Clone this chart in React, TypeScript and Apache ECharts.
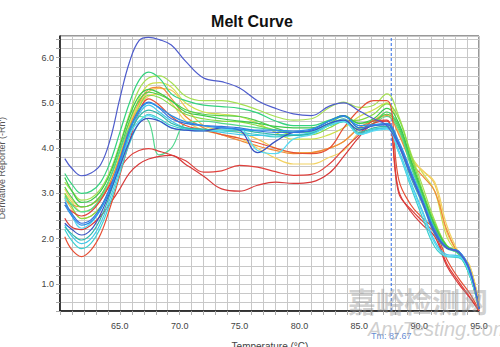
import React, { useEffect, useRef } from 'react';
import * as echarts from 'echarts';

// Temperature sample points (°C)
const temps = [60.4, 61.0, 61.8, 62.6, 63.4, 64.2, 65.0, 65.8, 66.6, 67.4, 68.3, 69.3, 70.5, 72.0, 73.5, 75.0, 76.5, 78.0, 79.5, 81.0, 82.5, 83.7, 85.0, 86.2, 87.3, 88.3, 89.3, 90.3, 91.3, 92.3, 93.3, 94.2, 95.0];

// Derivative Reporter (-Rn') per well
const yellowGreen = [3.0, 2.8, 2.6, 2.65, 2.85, 3.25, 3.85, 4.5, 5.1, 5.4, 5.45, 5.35, 5.0, 4.8, 4.75, 4.7, 4.55, 4.35, 4.2, 4.2, 4.3, 4.45, 4.7, 4.85, 5.0, 4.5, 3.85, 3.45, 3.05, 2.05, 1.65, 1.38, 0.5];
const yellowOrange = [2.92, 2.65, 2.45, 2.5, 2.7, 3.1, 3.7, 4.4, 4.95, 5.25, 5.32, 5.28, 4.9, 4.5, 4.4, 4.35, 4.2, 4.0, 3.9, 3.9, 4.0, 4.15, 4.45, 4.6, 4.8, 4.35, 3.75, 3.5, 3.2, 2.15, 1.68, 1.42, 0.52];
const orange = [2.85, 2.75, 2.7, 2.75, 2.9, 3.25, 3.8, 4.45, 5.0, 5.3, 5.35, 5.1, 4.7, 4.45, 4.3, 4.17, 4.05, 3.95, 3.88, 3.9, 4.0, 4.15, 4.45, 4.62, 4.72, 4.3, 3.7, 3.38, 3.05, 2.2, 1.65, 1.38, 0.5];
const yellow = [3.1, 2.85, 2.7, 2.75, 2.95, 3.35, 3.95, 4.55, 4.95, 5.15, 5.2, 5.0, 4.6, 4.4, 4.3, 4.22, 4.0, 3.78, 3.65, 3.65, 3.8, 3.95, 4.35, 4.55, 4.75, 4.4, 3.8, 3.5, 3.25, 2.3, 1.7, 1.42, 0.52];
const lightGreen = [3.25, 3.05, 2.85, 2.9, 3.1, 3.5, 4.1, 4.75, 5.3, 5.55, 5.6, 5.45, 5.15, 5.05, 5.05, 4.98, 4.85, 4.7, 4.62, 4.65, 4.9, 5.02, 4.9, 4.95, 5.2, 4.7, 3.9, 3.15, 2.4, 1.85, 1.7, 1.25, 0.46];
const tealGreen = [3.44, 3.2, 3.0, 3.05, 3.25, 3.7, 4.35, 5.0, 5.5, 5.68, 5.55, 5.2, 5.05, 4.95, 4.92, 4.88, 4.78, 4.6, 4.5, 4.5, 4.62, 4.72, 4.45, 4.55, 4.8, 4.5, 3.7, 2.95, 2.25, 1.82, 1.68, 1.22, 0.45];
const green = [3.14, 2.9, 2.7, 2.75, 2.95, 3.35, 3.95, 4.6, 5.05, 5.24, 5.18, 5.05, 4.85, 4.75, 4.72, 4.7, 4.6, 4.45, 4.35, 4.38, 4.55, 4.7, 4.55, 4.6, 4.75, 4.45, 3.65, 2.95, 2.28, 1.82, 1.66, 1.2, 0.45];
const limeGreen = [3.0, 2.7, 2.44, 2.5, 2.7, 3.1, 3.7, 4.35, 4.9, 5.17, 5.12, 4.95, 4.75, 4.65, 4.6, 4.58, 4.5, 4.4, 4.3, 4.3, 4.45, 4.6, 4.62, 4.75, 4.98, 4.65, 3.85, 3.05, 2.35, 1.85, 1.68, 1.22, 0.46];
const deepGreen = [3.35, 3.05, 2.8, 2.85, 3.05, 3.45, 4.05, 4.7, 5.15, 5.3, 5.22, 5.05, 4.8, 4.72, 4.65, 4.6, 4.55, 4.48, 4.45, 4.45, 4.6, 4.72, 4.55, 4.65, 4.88, 4.55, 3.75, 3.0, 2.3, 1.84, 1.68, 1.22, 0.45];
const mintGreen = [2.95, 2.75, 2.59, 2.65, 2.9, 3.35, 3.95, 4.45, 4.7, 4.6, 3.85, 4.0, 4.55, 4.6, 4.55, 4.5, 4.45, 4.4, 4.35, 4.35, 4.5, 4.6, 4.42, 4.55, 4.7, 4.4, 3.6, 2.9, 2.22, 1.8, 1.66, 1.2, 0.45];
const redLow1 = [2.74, 2.6, 2.5, 2.6, 2.85, 3.2, 3.55, 3.82, 3.95, 3.99, 3.93, 3.85, 3.72, 3.47, 3.5, 3.62, 3.58, 3.48, 3.4, 3.42, 3.65, 3.98, 4.3, 4.6, 4.62, 3.0, 2.65, 2.38, 2.12, 1.45, 1.05, 0.72, 0.4];
const redLow2 = [2.45, 2.25, 2.2, 2.3, 2.5, 2.78, 3.1, 3.45, 3.65, 3.76, 3.82, 3.84, 3.64, 3.38, 3.1, 3.05, 3.18, 3.25, 3.22, 3.25, 3.45, 3.82, 4.25, 4.55, 4.6, 3.05, 2.6, 2.3, 2.05, 1.4, 1.0, 0.7, 0.4];
const orangeRed = [2.04, 1.75, 1.6, 1.75, 2.1, 2.7, 3.4, 4.15, 4.8, 5.09, 4.95, 4.7, 4.5, 4.4, 4.3, 4.22, 4.12, 4.0, 3.9, 3.88, 4.0, 4.45, 4.85, 5.05, 5.05, 3.3, 2.75, 2.45, 2.2, 1.55, 1.12, 0.8, 0.42];
const cyanTeal = [2.2, 1.95, 1.78, 1.9, 2.25, 2.8, 3.45, 4.1, 4.55, 4.75, 4.65, 4.5, 4.42, 4.4, 4.38, 4.35, 4.3, 4.25, 4.28, 4.32, 4.5, 4.58, 4.32, 4.42, 4.45, 3.9, 3.15, 2.45, 1.82, 1.6, 1.58, 1.2, 0.44];
const cyan = [2.3, 2.05, 1.89, 2.0, 2.35, 2.9, 3.55, 4.25, 4.75, 4.95, 4.8, 4.6, 4.45, 4.4, 4.35, 4.3, 4.28, 4.3, 4.3, 4.35, 4.55, 4.62, 4.3, 4.4, 4.45, 3.95, 3.25, 2.6, 1.95, 1.65, 1.62, 1.25, 0.45];
const teal = [2.26, 2.1, 1.97, 2.1, 2.45, 3.0, 3.65, 4.3, 4.7, 4.84, 4.75, 4.55, 4.45, 4.42, 4.4, 4.4, 4.35, 4.3, 4.28, 4.32, 4.52, 4.65, 4.35, 4.45, 4.48, 4.05, 3.35, 2.75, 2.1, 1.78, 1.7, 1.3, 0.45];
const lightCyan = [2.9, 2.5, 2.23, 2.35, 2.65, 3.1, 3.7, 4.3, 4.6, 4.72, 4.6, 4.45, 4.4, 4.38, 4.4, 4.42, 3.95, 3.88, 4.2, 4.3, 4.5, 4.6, 4.3, 4.38, 4.42, 3.9, 3.2, 2.55, 1.9, 1.62, 1.6, 1.22, 0.44];
const navy = [2.34, 2.2, 2.08, 2.2, 2.55, 3.05, 3.6, 4.15, 4.55, 4.66, 4.6, 4.45, 4.4, 4.38, 4.45, 4.4, 3.9, 4.15, 4.35, 4.38, 4.55, 4.62, 4.4, 4.5, 4.52, 4.1, 3.45, 2.82, 2.15, 1.8, 1.72, 1.32, 0.45];
const blue = [2.81, 2.55, 2.34, 2.42, 2.7, 3.15, 3.75, 4.4, 4.85, 5.02, 4.88, 4.65, 4.55, 4.5, 4.48, 4.45, 4.38, 4.35, 4.35, 4.4, 4.6, 4.72, 4.45, 4.5, 4.52, 4.1, 3.45, 2.8, 2.15, 1.8, 1.7, 1.3, 0.45];
const skyBlue = [2.75, 2.5, 2.3, 2.38, 2.65, 3.1, 3.7, 4.35, 4.82, 5.0, 4.9, 4.72, 4.58, 4.5, 4.45, 4.42, 4.4, 4.4, 4.38, 4.42, 4.6, 4.7, 4.5, 4.52, 4.55, 4.15, 3.5, 2.85, 2.2, 1.8, 1.72, 1.35, 0.46];
const indigo = [3.77, 3.55, 3.39, 3.45, 3.64, 4.2, 5.1, 5.9, 6.38, 6.45, 6.4, 6.28, 5.92, 5.55, 5.47, 5.33, 5.05, 4.88, 4.76, 4.72, 4.93, 5.0, 4.82, 4.65, 4.5, 4.05, 3.4, 2.78, 2.12, 1.8, 1.7, 1.32, 0.45];

const wells: { name: string; color: string; values: number[] }[] = [
  { name: 'A1', color: '#cfe04a', values: yellowGreen },
  { name: 'A2', color: '#f2c450', values: yellowOrange },
  { name: 'A3', color: '#f08a3a', values: orange },
  { name: 'A4', color: '#f2d262', values: yellow },
  { name: 'A5', color: '#a6e052', values: lightGreen },
  { name: 'A6', color: '#34d27e', values: tealGreen },
  { name: 'A7', color: '#56d04a', values: green },
  { name: 'A8', color: '#84dc44', values: limeGreen },
  { name: 'A9', color: '#3cc84c', values: deepGreen },
  { name: 'A10', color: '#52d88e', values: mintGreen },
  { name: 'A11', color: '#e0403c', values: redLow1 },
  { name: 'A12', color: '#d83a3a', values: redLow2 },
  { name: 'B1', color: '#e65036', values: orangeRed },
  { name: 'B2', color: '#3cd0d0', values: cyanTeal },
  { name: 'B3', color: '#44c8ea', values: cyan },
  { name: 'B4', color: '#30b8aa', values: teal },
  { name: 'B5', color: '#58daf2', values: lightCyan },
  { name: 'B6', color: '#3a52c2', values: navy },
  { name: 'B7', color: '#3472e0', values: blue },
  { name: 'B8', color: '#2a8ee6', values: skyBlue },
  { name: 'B9', color: '#4e5ccc', values: indigo },
];

const tm = 87.67;
const yMin = 0.4;
const yMax = 6.48;
const FONT = 'Liberation Sans, Arial, sans-serif';

export default function App() {
  const ref = useRef<HTMLDivElement>(null);
  useEffect(() => {
    document.body.style.margin = '0';
    const chart = echarts.init(ref.current!, null, { renderer: 'svg' });
    const series: any[] = [
      {
        name: 'Tm',
        type: 'line',
        data: [
          [tm, yMin],
          [tm, yMax],
        ],
        showSymbol: false,
        symbol: 'none',
        lineStyle: { color: '#2a6ae8', type: [3, 2], width: 1 },
        z: 2,
      },
      ...wells.map((w) => ({
        name: w.name,
        type: 'line',
        data: temps.map((t, k) => [t, w.values[k]]),
        smooth: 0.4,
        showSymbol: false,
        symbol: 'none',
        lineStyle: { width: 1.2, color: w.color },
        itemStyle: { color: w.color },
        z: 3,
      })),
      {
        name: 'TmLabel',
        type: 'scatter',
        data: [[tm, yMin]],
        symbolSize: 0,
        silent: true,
        label: {
          show: true,
          position: 'bottom',
          distance: 20,
          formatter: 'Tm: ' + tm.toFixed(2),
          color: '#3a6cc8',
          fontSize: 9,
          fontFamily: FONT,
        },
        z: 4,
      },
    ];

    chart.setOption({
      animation: false,
      backgroundColor: '#ffffff',
      title: {
        text: 'Melt Curve',
        left: 247,
        textAlign: 'center',
        top: 8,
        textStyle: { fontSize: 16, fontWeight: 'bold', color: '#111', fontFamily: FONT },
      },
      grid: {
        left: 60,
        right: 21,
        top: 36,
        bottom: 36,
        show: true,
        borderColor: '#333',
        borderWidth: 1,
        backgroundColor: 'transparent',
      },
      xAxis: {
        type: 'value',
        min: 60,
        max: 95,
        interval: 1,
        axisLine: { show: true, lineStyle: { color: '#111', width: 1.5 } },
        axisTick: { show: true, length: 4, lineStyle: { color: '#aaa' } },
        splitLine: { show: true, lineStyle: { color: '#c8c8c8', width: 1 } },
        axisLabel: {
          margin: 10,
          fontSize: 9,
          color: '#444',
          fontFamily: FONT,
          formatter: (v: number) => {
            const r = Math.round(v);
            return Math.abs(v - r) < 1e-6 && r % 5 === 0 && r > 60 ? r.toFixed(1) : '';
          },
        },
      },
      yAxis: {
        type: 'value',
        min: yMin,
        max: yMax,
        interval: 0.2,
        axisLine: { show: true, lineStyle: { color: '#111', width: 1.5 } },
        axisTick: { show: true, length: 4, lineStyle: { color: '#aaa' } },
        splitLine: { show: true, lineStyle: { color: '#c8c8c8', width: 1 } },
        axisLabel: {
          margin: 6,
          fontSize: 9,
          color: '#444',
          fontFamily: FONT,
          showMaxLabel: false,
          formatter: (v: number) => {
            const r = Math.round(v);
            return Math.abs(v - r) < 1e-6 && r >= 1 && r <= 6 ? r.toFixed(1) : '';
          },
        },
      },
      graphic: [
        {
          type: 'text',
          x: 2,
          y: 168,
          rotation: Math.PI / 2,
          style: {
            text: "Derivative Reporter (-Rn')",
            fontSize: 9,
            fill: '#555',
            fontFamily: FONT,
            textAlign: 'center',
            textVerticalAlign: 'middle',
          },
        },
        {
          type: 'text',
          x: 270,
          y: 341,
          style: {
            text: 'Temperature (°C)',
            fontSize: 10,
            fill: '#444',
            fontFamily: FONT,
            textAlign: 'center',
            textVerticalAlign: 'top',
          },
        },
        {
          type: 'text',
          x: 348,
          y: 287,
          z: 100,
          style: {
            text: '嘉峪检测网',
            fontSize: 28,
            fontWeight: 'bold',
            fill: 'rgba(150,150,150,0.45)',
            fontFamily: 'Noto Sans CJK SC',
          },
        },
        {
          type: 'text',
          x: 368,
          y: 319,
          z: 100,
          style: {
            text: 'AnyTesting.com',
            fontSize: 20,
            fontStyle: 'italic',
            fill: 'rgba(160,160,160,0.5)',
            fontFamily: FONT,
          },
        },
      ],
      series,
    });
    return () => chart.dispose();
  }, []);
  return <div ref={ref} style={{ width: 500, height: 347 }} />;
}
